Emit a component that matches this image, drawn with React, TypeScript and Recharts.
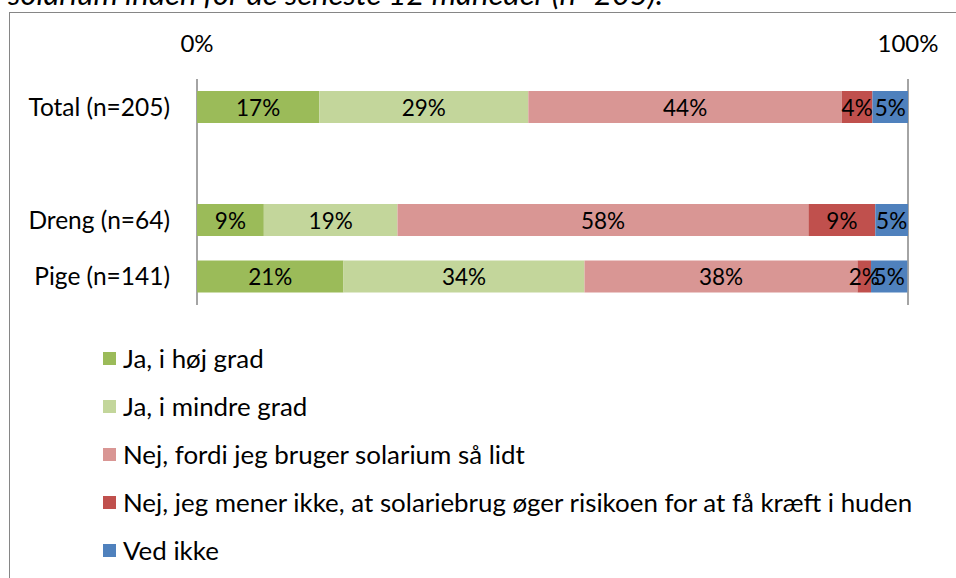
import { BarChart, Bar, XAxis, YAxis, CartesianGrid, LabelList } from "recharts";

const categories = ["Total (n=205)", "", "Dreng (n=64)", "Pige (n=141)"];
const seriesNames = [
  "Ja, i høj grad",
  "Ja, i mindre grad",
  "Nej, fordi jeg bruger solarium så lidt",
  "Nej, jeg mener ikke, at solariebrug øger risikoen for at få kræft i huden",
  "Ved ikke",
];
const seriesColors = ["#9BBB59", "#C3D69B", "#D99694", "#C0504D", "#4F81BD"];
// values per series, one per category (null = empty spacer row)
const hojGrad = [17.2, null, 9.4, 20.6];
const mindreGrad = [29.4, null, 18.8, 33.9];
const brugerLidt = [44.1, null, 57.8, 38.4];
const menerIkke = [4.3, null, 9.4, 1.9];
const vedIkke = [5.0, null, 4.6, 5.1];
const xTicks = [0, 100];

const seriesValues = [hojGrad, mindreGrad, brugerLidt, menerIkke, vedIkke];
const keys = ["s0", "s1", "s2", "s3", "s4"];

const data = categories.map((name, i) => {
  const row: Record<string, string | number | null> = { name };
  seriesValues.forEach((vals, s) => {
    row[keys[s]] = vals[i];
  });
  return row;
});

const FONT = "Lato, 'Noto Sans', sans-serif";

const renderLabel = (props: any) => {
  const { x, y, width, height, value } = props;
  if (value === null || value === undefined) return null;
  return (
    <text
      x={Number(x) + Number(width) / 2}
      y={Number(y) + Number(height) / 2}
      textAnchor="middle"
      dominantBaseline="central"
      fontSize={22.5}
      fontFamily={FONT}
      fill="#000"
    >
      {Math.round(value)}%
    </text>
  );
};

export default function App() {
  return (
    <div
      style={{
        position: "absolute",
        left: 0,
        top: 0,
        width: 956,
        height: 578,
        overflow: "hidden",
        background: "#fff",
      }}
    >
      <div
        style={{
          position: "absolute",
          left: 9,
          top: 12,
          width: 1000,
          height: 700,
          border: "1px solid #868686",
        }}
      />
      <svg width={956} height={20} style={{ position: "absolute", left: 0, top: 0 }}>
        <text x={8} y={5} fontSize={31} fontStyle="italic" fontFamily={FONT} fill="#000">
          solarium inden for de seneste 12 måneder (n=205).
        </text>
      </svg>
      <div style={{ position: "absolute", left: 0, top: 0 }}>
        <BarChart
          width={956}
          height={578}
          data={data}
          layout="vertical"
          barSize={32}
          margin={{ top: 39, right: 48, bottom: 273, left: 0 }}
        >
          <CartesianGrid horizontal={false} stroke="#868686" strokeWidth={1.5} />
          <XAxis
            type="number"
            orientation="top"
            domain={[0, 100]}
            ticks={xTicks}
            tickFormatter={(v: number) => `${v}%`}
            axisLine={false}
            tickLine={false}
            tickSize={0}
            tickMargin={27}
            height={40}
            tick={{ fontSize: 24, fill: "#000", fontFamily: FONT }}
          />
          <YAxis
            type="category"
            dataKey="name"
            width={197}
            axisLine={false}
            tickLine={false}
            tickSize={0}
            tickMargin={27}
            tick={{ fontSize: 24.5, fill: "#000", fontFamily: FONT }}
          />
          {keys.map((k, i) => (
            <Bar
              key={k}
              dataKey={k}
              name={seriesNames[i]}
              stackId="a"
              fill={seriesColors[i]}
              isAnimationActive={false}
            >
              <LabelList dataKey={k} content={renderLabel} />
            </Bar>
          ))}
        </BarChart>
      </div>
      <div
        style={{
          position: "absolute",
          left: 103,
          top: 334,
          fontFamily: FONT,
          fontSize: 25.9,
          color: "#000",
        }}
      >
        {seriesNames.map((n, i) => (
          <div key={n} style={{ display: "flex", alignItems: "center", height: 48 }}>
            <span
              style={{
                display: "inline-block",
                width: 13,
                height: 13,
                background: seriesColors[i],
                marginRight: 7,
                flexShrink: 0,
              }}
            />
            <span style={{ whiteSpace: "nowrap" }}>{n}</span>
          </div>
        ))}
      </div>
    </div>
  );
}
